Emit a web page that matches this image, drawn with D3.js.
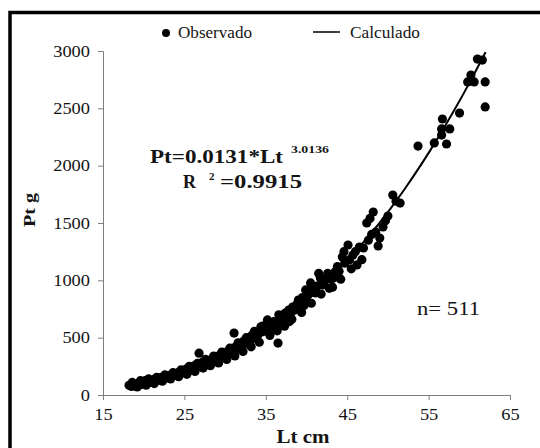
<!DOCTYPE html>
<html>
<head>
<meta charset="utf-8">
<script src="https://cdn.jsdelivr.net/npm/d3@7"></script>
<style>
  body { margin: 0; background: #fff; }
  svg { display: block; }
  svg text { font-family: "Liberation Serif", "Times New Roman", Tinos, "Nimbus Roman", Times, serif; }
</style>
</head>
<body>
<svg id="chart" width="540" height="448"></svg>
<script>
const observado = [
  [18.2, 85], [18.5, 75], [18.8, 95], [19.0, 80], [19.3, 100], [19.5, 88], [19.8, 110], [20.0, 95],
  [20.2, 125], [20.5, 105], [20.8, 120], [21.0, 110], [21.2, 135], [21.5, 125], [21.8, 140], [22.0, 130],
  [22.2, 155], [22.5, 145], [22.8, 160], [23.0, 150], [23.2, 172], [23.5, 165], [23.8, 180], [24.0, 170],
  [24.2, 195], [24.5, 185], [24.8, 205], [25.0, 195], [25.2, 225], [25.5, 210], [25.8, 240], [26.0, 225],
  [26.2, 255], [26.5, 240], [26.8, 365], [27.0, 260], [27.2, 285], [27.5, 270], [27.8, 300], [28.0, 285],
  [28.3, 310], [28.5, 295], [28.8, 330], [29.0, 310], [29.3, 345], [29.5, 330], [29.8, 365], [30.0, 345],
  [30.3, 380], [30.5, 365], [30.8, 400], [31.0, 385], [31.1, 540], [31.3, 420], [31.5, 400], [31.8, 445],
  [32.0, 425], [32.3, 470], [32.5, 450], [32.8, 490], [33.0, 470], [33.3, 520], [33.5, 495], [33.8, 545],
  [34.0, 520], [34.4, 595], [34.5, 550], [34.8, 580], [35.0, 560], [35.2, 655], [35.4, 600], [35.6, 620],
  [35.8, 580], [36.0, 640], [36.2, 600], [36.5, 453], [36.8, 672], [37.0, 640], [37.2, 700], [37.4, 715],
  [37.6, 680], [37.8, 740], [38.0, 700], [38.3, 767], [38.5, 740], [38.8, 790], [39.0, 828], [39.2, 780],
  [39.5, 850], [39.9, 916], [40.0, 840], [40.3, 880], [40.5, 977], [40.8, 920], [41.1, 890], [41.3, 950],
  [41.7, 1020], [42.0, 960], [42.3, 1000], [42.6, 1060], [43.0, 1010], [43.3, 1020], [43.5, 1073], [43.8, 1120],
  [44.0, 1080], [44.4, 1203], [44.7, 1150], [45.1, 1308], [45.3, 1180], [45.7, 1220], [46.0, 1250], [46.2, 1134],
  [46.5, 1290], [47.0, 1282], [47.4, 1500], [47.6, 1350], [48.0, 1400], [48.2, 1596], [48.5, 1420], [49.0, 1369],
  [49.4, 1465], [49.7, 1520], [50.0, 1560], [50.6, 1744], [51.0, 1690], [51.5, 1674], [53.7, 2171], [55.7, 2198],
  [56.6, 2267], [56.6, 2320], [56.7, 2407], [57.2, 2189], [57.6, 2320], [58.8, 2459], [59.8, 2730], [60.2, 2790],
  [60.6, 2730], [61.0, 2930], [61.6, 2921], [61.95, 2730], [61.95, 2512],
  // upper and lower edges of the dense band
  [18.6, 110], [19.2, 70], [19.6, 125], [20.3, 85], [20.6, 140], [21.3, 100], [21.6, 155], [22.3, 120],
  [22.6, 175], [23.3, 140], [23.6, 195], [24.3, 160], [24.6, 220], [25.3, 180], [25.6, 250], [26.3, 205],
  [26.6, 275], [27.3, 235], [27.6, 310], [28.2, 255], [28.6, 340], [29.2, 280], [29.6, 375], [30.2, 310],
  [30.6, 410], [31.2, 340], [31.6, 455], [32.2, 380], [32.6, 500], [33.2, 420], [33.6, 555], [34.2, 460],
  [34.6, 600], [35.5, 520], [36.4, 560], [37.3, 600], [38.2, 660], [39.4, 720], [40.6, 800], [41.8, 880],
  [43.2, 940], [44.2, 1010], [45.5, 1100], [46.8, 1180], [48.8, 1300],
  [36.6, 700], [37.9, 640], [39.7, 780], [41.5, 1060], [42.8, 930], [44.6, 1250], [47.8, 1540]
];

// fitted curve, read at 2 cm steps
const calcLt = [18, 20, 22, 24, 26, 28, 30, 32, 34, 36, 38, 40, 42, 44, 46, 48, 50, 52, 54, 56, 58, 60, 62];
const calcPt = [80, 110, 145, 185, 235, 290, 355, 430, 515, 610, 715, 830, 955, 1095, 1250, 1415, 1595, 1790, 2000, 2225, 2465, 2720, 2990];

const xTicks = [15, 25, 35, 45, 55, 65];
const yTicks = [0, 500, 1000, 1500, 2000, 2500, 3000];

const svg = d3.select("#chart");
const axisColor = "#7f7f7f";
const textColor = "#141414";

// stretch a text horizontally like the (widened) source image
function stretch(sel, k) {
  sel.each(function () {
    const w = this.getComputedTextLength();
    d3.select(this).attr("textLength", w * k).attr("lengthAdjust", "spacingAndGlyphs");
  });
}

const x = d3.scaleLinear().domain([15, 65]).range([103, 510]);
const y = d3.scaleLinear().domain([0, 3000]).range([395, 51]);

// outer frame (only left and top show)
svg.append("path")
  .attr("d", "M10,448V12.5H540")
  .attr("fill", "none")
  .attr("stroke", "#000")
  .attr("stroke-width", 3.5);

// axes
const gx = svg.append("g").attr("transform", `translate(0,${y(0)})`)
  .call(d3.axisBottom(x).tickValues(xTicks).tickFormat(d3.format("d"))
    .tickSize(5).tickPadding(9).tickSizeOuter(5));
const gy = svg.append("g").attr("transform", `translate(${x(15)},0)`)
  .call(d3.axisLeft(y).tickValues(yTicks).tickFormat(d3.format("d"))
    .tickSize(5).tickPadding(8).tickSizeOuter(5));

[gx, gy].forEach(g => {
  g.attr("font-family", null);
  g.select(".domain").attr("stroke", axisColor);
  g.selectAll(".tick line").attr("stroke", axisColor);
  g.selectAll(".tick text")
    .attr("fill", textColor)
    .style("font-size", "16px");
  stretch(g.selectAll(".tick text"), 1.15);
});

// fitted line
svg.append("path")
  .datum(calcLt.map((l, i) => [l, calcPt[i]]))
  .attr("fill", "none")
  .attr("stroke", "#000")
  .attr("stroke-width", 2)
  .attr("d", d3.line().x(d => x(d[0])).y(d => y(d[1])).curve(d3.curveMonotoneX));

// observed points
svg.append("g").selectAll("circle")
  .data(observado)
  .join("circle")
  .attr("cx", d => x(d[0]))
  .attr("cy", d => y(d[1]))
  .attr("r", 4.6)
  .attr("fill", "#000");

// legend
svg.append("circle").attr("cx", 166).attr("cy", 33).attr("r", 4).attr("fill", "#000");
svg.append("text").attr("x", 178).attr("y", 38).attr("fill", textColor)
  .style("font-size", "16px").attr("textLength", 74).attr("lengthAdjust", "spacingAndGlyphs")
  .text("Observado");
svg.append("line").attr("x1", 313).attr("x2", 340).attr("y1", 32).attr("y2", 32)
  .attr("stroke", "#000").attr("stroke-width", 1.5);
svg.append("text").attr("x", 350).attr("y", 38).attr("fill", textColor)
  .style("font-size", "16px").attr("textLength", 70).attr("lengthAdjust", "spacingAndGlyphs")
  .text("Calculado");

// axis titles
svg.append("text").attr("x", 303).attr("y", 443).attr("text-anchor", "middle")
  .attr("fill", textColor).style("font-size", "18px").style("font-weight", "bold")
  .attr("textLength", 53).attr("lengthAdjust", "spacingAndGlyphs")
  .text("Lt cm");
svg.append("text").attr("transform", "translate(35,210) rotate(-90)").attr("text-anchor", "middle")
  .attr("fill", textColor).style("font-size", "17px").style("font-weight", "bold")
  .attr("textLength", 34).attr("lengthAdjust", "spacingAndGlyphs")
  .text("Pt g");

// equation
const eq = svg.append("g").attr("fill", textColor).style("font-weight", "bold");
eq.append("text").attr("x", 150).attr("y", 163).style("font-size", "18px")
  .attr("textLength", 133).attr("lengthAdjust", "spacingAndGlyphs").text("Pt=0.0131*Lt");
eq.append("text").attr("x", 291).attr("y", 153).style("font-size", "11px")
  .attr("textLength", 38).attr("lengthAdjust", "spacingAndGlyphs").text("3.0136");
eq.append("text").attr("x", 183).attr("y", 188).style("font-size", "18px").text("R");
eq.append("text").attr("x", 209).attr("y", 180).style("font-size", "11px").text("2");
eq.append("text").attr("x", 220).attr("y", 188).style("font-size", "18px")
  .attr("textLength", 82).attr("lengthAdjust", "spacingAndGlyphs").text("=0.9915");

// sample size
svg.append("text").attr("x", 417).attr("y", 315).attr("fill", textColor)
  .style("font-size", "18px").attr("textLength", 63).attr("lengthAdjust", "spacingAndGlyphs")
  .text("n= 511");
</script>
</body>
</html>
